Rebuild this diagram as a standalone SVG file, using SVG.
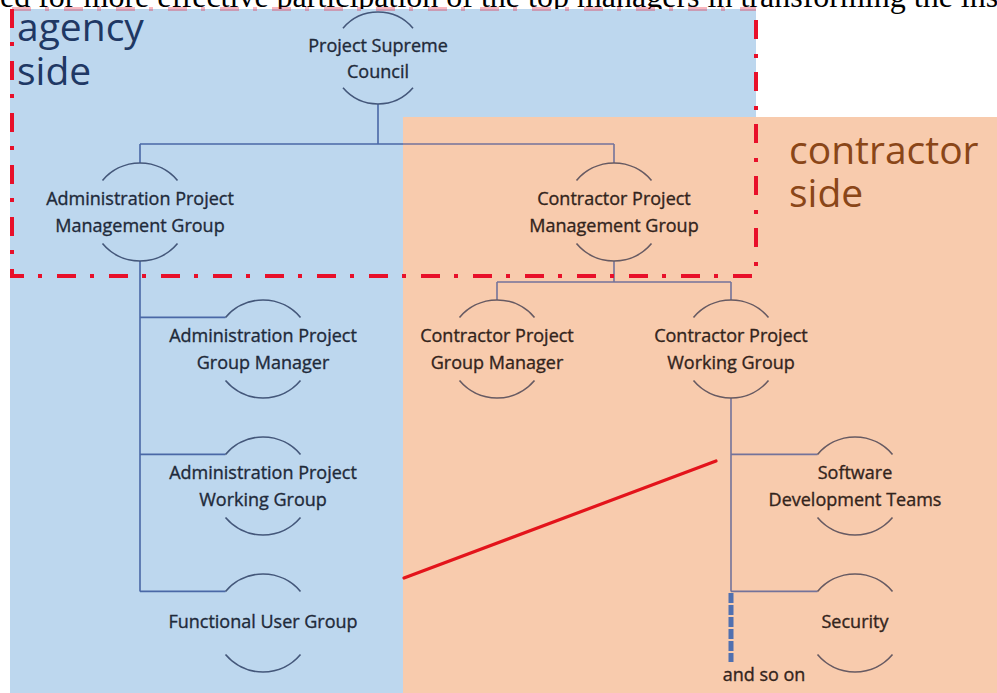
<svg xmlns="http://www.w3.org/2000/svg" width="997" height="693" viewBox="0 0 997 693">
<style>
.cap{font-family:"Liberation Serif",serif;font-size:32px;fill:#000}
.side{font-family:"Open Sans","Noto Sans",sans-serif;font-size:39px}
.ag{fill:#1f3864}
.ct{fill:#8a4618}
.t{font-family:"Open Sans","Noto Sans",sans-serif;font-size:18px;text-anchor:middle;stroke-width:0.35px}
.tb{fill:#1f2a3a;stroke:#1f2a3a}
.to{fill:#33241c;stroke:#33241c}
.arc{fill:none;stroke-width:1.6}
.ab{stroke:#44577a}
.ao{stroke:#675a62}
.ln{fill:none;stroke-width:1.6}
.lb{stroke:#4a68a6}
.lo{stroke:#74739a}
</style>
<rect width="997" height="693" fill="#ffffff"/>
<text class="cap" x="0" y="7">ed for more effective participation of the top managers in transforming the ins</text>
<g id="backgrounds">
<rect x="10" y="9" width="746" height="684" fill="#bdd7ee"/>
<rect x="403" y="117" width="594" height="576" fill="#f8cbad"/>
</g>
<g id="labels">
<text class="side ag" x="17" y="41">agency</text>
<text class="side ag" x="17" y="85">side</text>
<text class="side ct" x="789" y="164">contractor</text>
<text class="side ct" x="789" y="207">side</text>
</g>
<g id="connectors">
<path class="ln lb" d="M378 104V144M140 144H403M140 144V163M140 261V591.4M140 317.4H225.5M140 454.4H225.5M140 591.4H225.5"/>
<path class="ln lo" d="M403 144H614M614 144V163M614 261V282M497 282H731M497 282V300M731 282V300M731 398V591.4M731 454.4H817.5M731 591.4H817.5"/>
<path d="M731 593V662" fill="none" stroke="#5070b0" stroke-width="5" stroke-dasharray="10 2"/>
</g>
<g id="council">
<path class="arc ab" d="M343 28.2A46 46 0 0 1 413 28.2M343 87.8A46 46 0 0 0 413 87.8"/>
<text class="t tb" x="378" y="52">Project Supreme</text>
<text class="t tb" x="378" y="78">Council</text>
</g>
<g id="admin-pm-group">
<path class="arc ab" d="M102.5 180.4A49 49 0 0 1 177.5 180.4M102.5 243.6A49 49 0 0 0 177.5 243.6"/>
<text class="t tb" x="140" y="205">Administration Project</text>
<text class="t tb" x="140" y="232">Management Group</text>
</g>
<g id="contractor-pm-group">
<path class="arc ao" d="M576.5 180.4A49 49 0 0 1 651.5 180.4M576.5 243.6A49 49 0 0 0 651.5 243.6"/>
<text class="t to" x="614" y="205">Contractor Project</text>
<text class="t to" x="614" y="232">Management Group</text>
</g>
<g id="admin-group-manager">
<path class="arc ab" d="M225.5 317.4A49 49 0 0 1 300.5 317.4M225.5 380.6A49 49 0 0 0 300.5 380.6"/>
<text class="t tb" x="263" y="342">Administration Project</text>
<text class="t tb" x="263" y="369">Group Manager</text>
</g>
<g id="contractor-group-manager">
<path class="arc ao" d="M459.5 317.4A49 49 0 0 1 534.5 317.4M459.5 380.6A49 49 0 0 0 534.5 380.6"/>
<text class="t to" x="497" y="342">Contractor Project</text>
<text class="t to" x="497" y="369">Group Manager</text>
</g>
<g id="contractor-working-group">
<path class="arc ao" d="M693.5 317.4A49 49 0 0 1 768.5 317.4M693.5 380.6A49 49 0 0 0 768.5 380.6"/>
<text class="t to" x="731" y="342">Contractor Project</text>
<text class="t to" x="731" y="369">Working Group</text>
</g>
<g id="admin-working-group">
<path class="arc ab" d="M225.5 454.4A49 49 0 0 1 300.5 454.4M225.5 517.6A49 49 0 0 0 300.5 517.6"/>
<text class="t tb" x="263" y="479">Administration Project</text>
<text class="t tb" x="263" y="506">Working Group</text>
</g>
<g id="software-teams">
<path class="arc ao" d="M817.5 454.4A49 49 0 0 1 892.5 454.4M817.5 517.6A49 49 0 0 0 892.5 517.6"/>
<text class="t to" x="855" y="479">Software</text>
<text class="t to" x="855" y="506">Development Teams</text>
</g>
<g id="functional-user-group">
<path class="arc ab" d="M225.5 591.4A49 49 0 0 1 300.5 591.4M225.5 654.6A49 49 0 0 0 300.5 654.6"/>
<text class="t tb" x="263" y="628">Functional User Group</text>
</g>
<g id="security">
<path class="arc ao" d="M817.5 591.4A49 49 0 0 1 892.5 591.4M817.5 654.6A49 49 0 0 0 892.5 654.6"/>
<text class="t to" x="855" y="628">Security</text>
</g>
<g id="and-so-on">
<text class="t to" x="764" y="681">and so on</text>
</g>
<g id="annotations">
<path d="M12 9H756" fill="none" stroke="#e8102a" stroke-width="4" stroke-opacity="0.3" stroke-dasharray="19 14 4 15"/>
<path d="M12 9V276H756V9" fill="none" stroke="#e8102a" stroke-width="4" stroke-dasharray="19 14 4 15"/>
<path d="M404 578L716 461" fill="none" stroke="#e3141b" stroke-width="3.2" stroke-linecap="round"/>
</g>
</svg>
